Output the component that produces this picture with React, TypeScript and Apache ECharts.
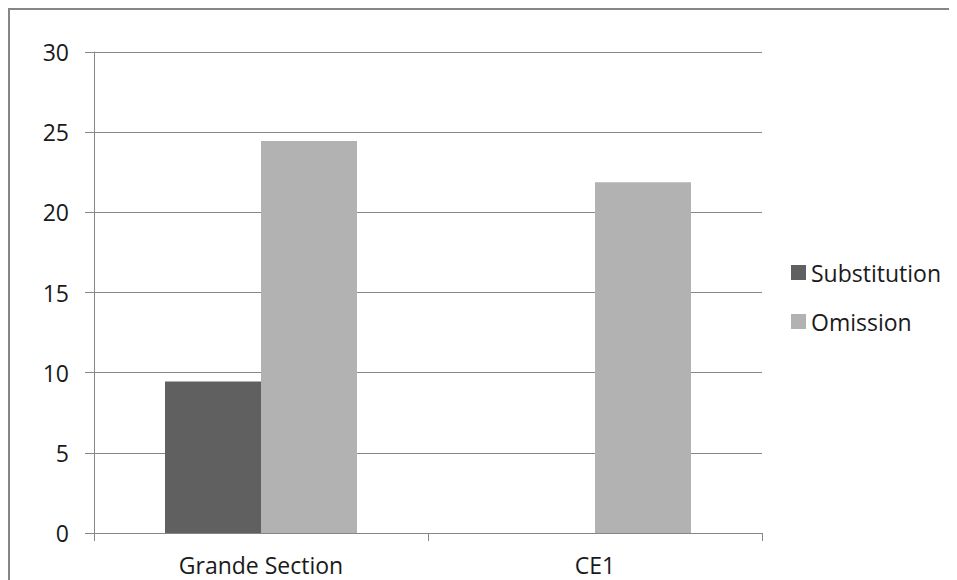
import React, { useEffect, useRef } from "react";
import * as echarts from "echarts";

const categories = ["Grande Section", "CE1"];
const substitution = [9.45, 0];
const omission = [24.45, 21.88];
const seriesNames = ["Substitution", "Omission"];
const yTicks = { min: 0, max: 30, interval: 5 };

const FONT = "'Open Sans', sans-serif";

export default function App() {
  const ref = useRef<HTMLDivElement>(null);
  useEffect(() => {
    document.documentElement.style.overflow = "hidden";
    const chart = echarts.init(ref.current!, null, { renderer: "svg" });
    chart.setOption({
      animation: false,
      backgroundColor: "#ffffff",
      graphic: [
        {
          type: "line",
          shape: { x1: 0, y1: 1, x2: 1200, y2: 1 },
          style: { stroke: "#868686", lineWidth: 2 },
          silent: true,
        },
        {
          type: "line",
          shape: { x1: 1, y1: 0, x2: 1, y2: 1200 },
          style: { stroke: "#868686", lineWidth: 2 },
          silent: true,
        },
      ],
      grid: { left: 86, top: 44, right: 187, bottom: 47 },
      legend: {
        orient: "vertical",
        left: 778,
        top: 248,
        itemWidth: 15,
        itemHeight: 15,
        itemGap: 26,
        icon: "rect",
        textStyle: { fontFamily: FONT, fontSize: 23, color: "#1a1a1a" },
        data: seriesNames,
      },
      xAxis: {
        type: "category",
        data: categories,
        axisLine: { lineStyle: { color: "#868686", width: 1 } },
        axisTick: { show: true, length: 8, lineStyle: { color: "#868686" } },
        axisLabel: { fontFamily: FONT, fontSize: 23, color: "#1a1a1a", margin: 20 },
      },
      yAxis: {
        type: "value",
        min: yTicks.min,
        max: yTicks.max,
        interval: yTicks.interval,
        axisLine: { show: true, lineStyle: { color: "#868686", width: 1 } },
        axisTick: { show: true, length: 9, lineStyle: { color: "#868686" } },
        splitLine: { lineStyle: { color: "#868686", width: 1 } },
        axisLabel: { fontFamily: FONT, fontSize: 23, color: "#1a1a1a", margin: 25 },
      },
      series: [
        {
          name: seriesNames[0],
          type: "bar",
          data: substitution,
          barWidth: 96,
          barGap: "0%",
          itemStyle: { color: "#606060" },
        },
        {
          name: seriesNames[1],
          type: "bar",
          data: omission,
          barWidth: 96,
          barGap: "0%",
          itemStyle: { color: "#b2b2b2" },
        },
      ],
    });
    return () => chart.dispose();
  }, []);
  return <div ref={ref} style={{ width: 941, height: 572 }} />;
}
